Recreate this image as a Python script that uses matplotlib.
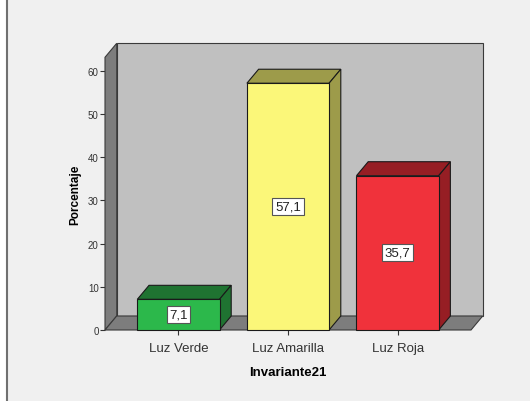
import matplotlib
matplotlib.use("Agg")
import matplotlib.pyplot as plt
from matplotlib.patches import Polygon, Rectangle
from matplotlib.lines import Line2D

# Data
categories = ["Luz Verde", "Luz Amarilla", "Luz Roja"]
percentages = [7.1, 57.1, 35.7]
value_labels = ["7,1", "57,1", "35,7"]
y_ticks = [0, 10, 20, 30, 40, 50, 60]

front_colors = ["#2cb84b", "#fbf779", "#f0323b"]
shade_colors = ["#1f7331", "#9d9b4a", "#961e24"]

W, H = 530, 402
fig = plt.figure(figsize=(W / 100, H / 100), dpi=100)
fig.patch.set_facecolor("#f0f0f0")
plt.rcParams["font.family"] = ["Liberation Sans", "DejaVu Sans"]

# Frame strip along the left edge
fig.patches.append(Rectangle((0, 0), 6 / W, 1, transform=fig.transFigure,
                             facecolor="white", edgecolor="none"))
fig.lines.append(Line2D([7 / W, 7 / W], [0, 1], transform=fig.transFigure,
                        color="#707070", linewidth=1.5))

# Front plane of the 3D box
left_px, right_px, bottom_px, top_px = 105, 471, 331, 58.3
ax = fig.add_axes([left_px / W, 1 - bottom_px / H,
                   (right_px - left_px) / W, (bottom_px - top_px) / H])
ax.set_facecolor("none")

x0, x1 = -0.67, 2.67
y0, y1 = 0, 63.1
ax.set_xlim(x0, x1)
ax.set_ylim(y0, y1)

# depth offset in data units
dx = 11.7 / ((right_px - left_px) / (x1 - x0))
dy = 14.0 / ((bottom_px - top_px) / (y1 - y0))

edge = "#3a3a3a"
lw = 0.8

# back wall
ax.add_patch(Polygon([(x0 + dx, y0 + dy), (x1 + dx, y0 + dy), (x1 + dx, y1 + dy), (x0 + dx, y1 + dy)],
                     closed=True, facecolor="#c0c0c0", edgecolor=edge, linewidth=lw,
                     clip_on=False, zorder=1))
# left wall
ax.add_patch(Polygon([(x0, y0), (x0 + dx, y0 + dy), (x0 + dx, y1 + dy), (x0, y1)],
                     closed=True, facecolor="#7d7d7d", edgecolor=edge, linewidth=lw,
                     clip_on=False, zorder=2))
# floor
ax.add_patch(Polygon([(x0, y0), (x1, y0), (x1 + dx, y0 + dy), (x0 + dx, y0 + dy)],
                     closed=True, facecolor="#7d7d7d", edgecolor=edge, linewidth=lw,
                     clip_on=False, zorder=2))

# 3D bars
bw = 0.75
for i, (v, fc, sc, lab) in enumerate(zip(percentages, front_colors, shade_colors, value_labels)):
    a, b = i - bw / 2, i + bw / 2
    ax.add_patch(Polygon([(a, v), (b, v), (b + dx, v + dy), (a + dx, v + dy)],
                         closed=True, facecolor=sc, edgecolor="#1a1a1a", linewidth=lw,
                         clip_on=False, zorder=3))
    ax.add_patch(Polygon([(b, 0), (b + dx, dy), (b + dx, v + dy), (b, v)],
                         closed=True, facecolor=sc, edgecolor="#1a1a1a", linewidth=lw,
                         clip_on=False, zorder=3))
    ax.add_patch(Rectangle((a, 0), bw, v, facecolor=fc, edgecolor="#1a1a1a",
                           linewidth=lw, clip_on=False, zorder=4))
    ax.text(i, v / 2, lab, ha="center", va="center", fontsize=9.5, color="#222222",
            zorder=5, bbox=dict(boxstyle="square,pad=0.2", facecolor="white",
                                edgecolor="#555555", linewidth=0.8))

for s in ax.spines.values():
    s.set_visible(False)

ax.set_yticks(y_ticks)
ax.set_yticklabels([str(t) for t in y_ticks])
ax.set_xticks(range(len(categories)))
ax.set_xticklabels(categories)
ax.tick_params(axis="y", length=3.5, width=0.8, color="#333333", labelsize=7,
               labelcolor="#333333", pad=1)
ax.tick_params(axis="x", length=3.5, width=0.8, color="#333333", labelsize=9.5,
               labelcolor="#333333", pad=5)

ax.set_ylabel("Porcentaje", fontsize=8.5, fontweight="bold", labelpad=5)
ax.set_xlabel("Invariante21", fontsize=9.5, fontweight="bold", labelpad=9)

fig.savefig("out.png", dpi=100, facecolor=fig.get_facecolor())
